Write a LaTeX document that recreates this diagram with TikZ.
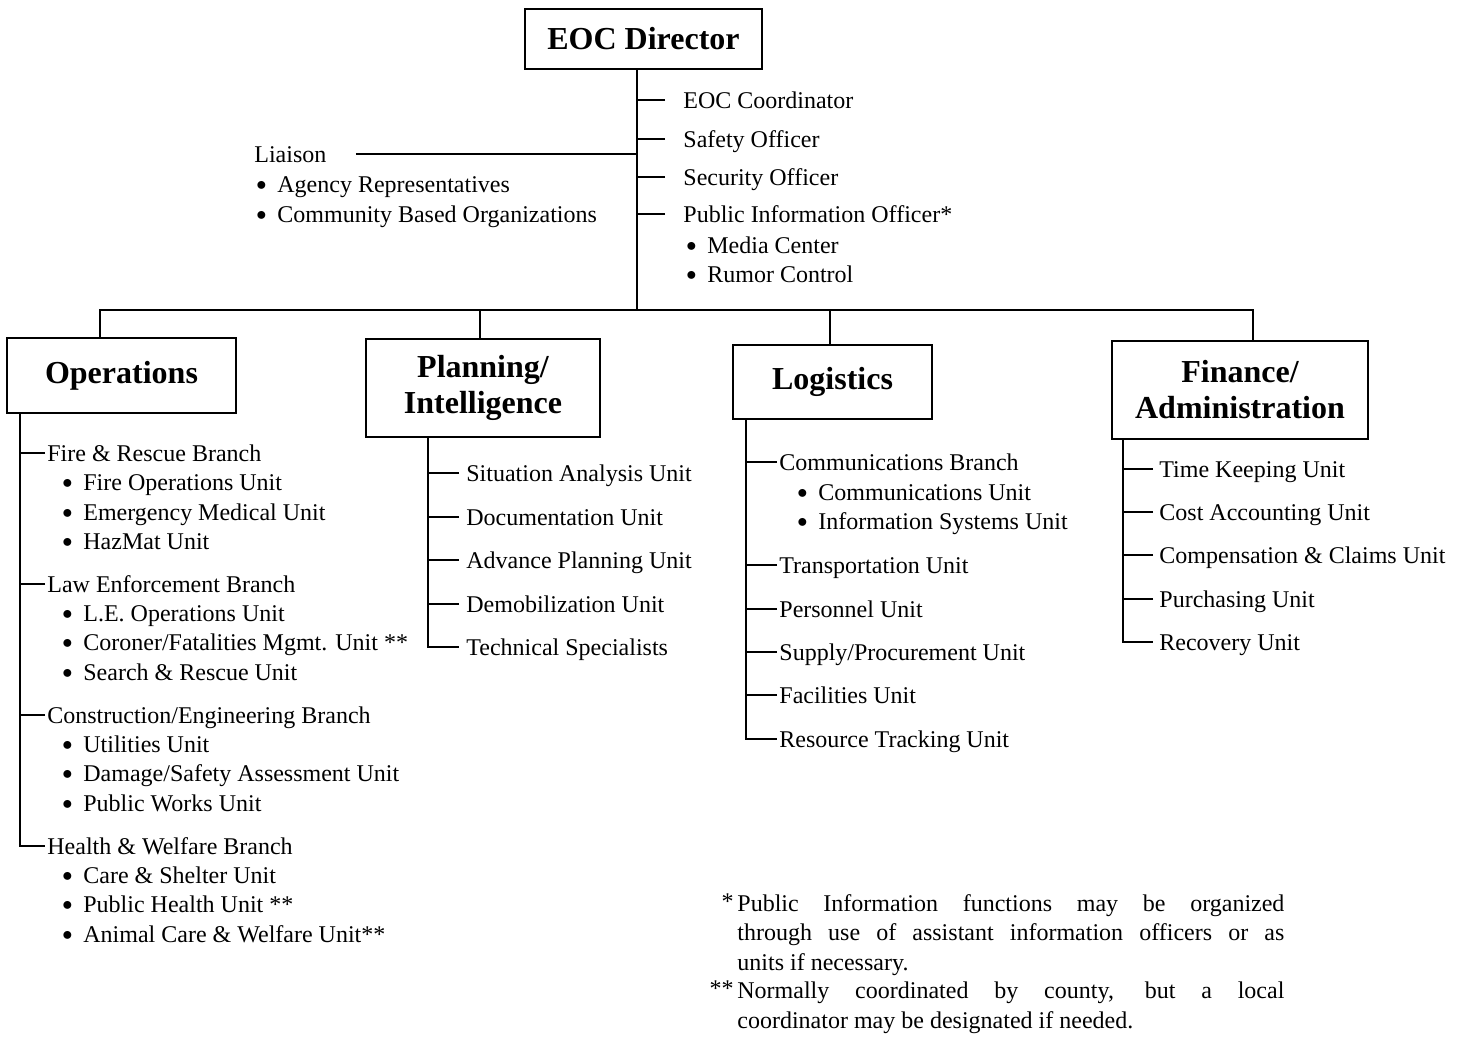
\documentclass[tikz,border=0pt]{standalone}
\usepackage{fontspec}
\usepackage{graphicx}
\setmainfont{Liberation Serif}
\newcommand{\bitem}[1]{\makebox[10.5pt][l]{\raisebox{0.6pt}{\scalebox{0.85}{$\bullet$}}}#1}
\begin{document}
\begin{tikzpicture}[x=0.5pt,y=-0.5pt,
  ln/.style={line width=1pt},
  hbox/.style={draw, line width=1pt, inner sep=0pt, align=center, font=\bfseries\fontsize{16}{18}\selectfont},
  txt/.style={anchor=base west, inner sep=0pt, font=\fontsize{12}{14.5}\selectfont},
  foot/.style={anchor=north west, inner sep=0pt, text width=273.5pt, align=justify, font=\fontsize{12}{14.7}\selectfont},
]
\useasboundingbox (0,0) rectangle (1462,1041);

% ---------- top ----------
\node[hbox, minimum width=118.5pt, minimum height=30pt] (dir) at (643.5,39) {EOC Director};
\coordinate (sp) at (637,310);
\draw[ln] (dir.south -| sp) -- (sp);

\node[txt] (eoc1) at (683,108) {EOC Coordinator};
\node[txt] (eoc2) at (683,147) {Safety Officer};
\node[txt] (eoc3) at (683,185) {Security Officer};
\node[txt] (eoc4) at (683,222) {Public Information Officer*};
\node[txt] (eoc5) at (686,253) {\bitem{Media Center}};
\node[txt] (eoc6) at (686,282) {\bitem{Rumor Control}};
\foreach \n in {eoc1,eoc2,eoc3,eoc4}
  \draw[ln] ([shift={(-18,-8)}]\n.base west) -- ++(-28,0);

\node[txt] (lia) at (254,162) {Liaison};
\node[txt] (lia1) at (256,192) {\bitem{Agency Representatives}};
\node[txt] (lia2) at (256,222) {\bitem{Community Based Organizations}};
\coordinate (liaJ) at (637,154);
\draw[ln] ([shift={(29,-8)}]lia.base east) -- (liaJ);

% ---------- section boxes ----------
\node[hbox, minimum width=114.5pt, minimum height=37.5pt] (ops) at (121.5,375.5) {Operations};
\node[hbox, minimum width=117pt, minimum height=49pt] (plan) at (483,388) {Planning/\\Intelligence};
\node[hbox, minimum width=99.5pt, minimum height=37pt] (log) at (832.5,382) {Logistics};
\node[hbox, minimum width=128pt, minimum height=49pt] (fin) at (1240,390) {Finance/\\Administration};

\coordinate (bO) at (100,310);
\coordinate (bP) at (480,310);
\coordinate (bL) at (830,310);
\coordinate (bF) at (1253,310);
\draw[ln] (bO |- ops.north) -- (bO) -- (bF) -- (bF |- fin.north);
\draw[ln] (bP) -- (bP |- plan.north);
\draw[ln] (bL) -- (bL |- log.north);

% ---------- Operations ----------
\node[txt] (ob1) at (47,461) {Fire \& Rescue Branch};
\node[txt] (ou11) at (62,490) {\bitem{Fire Operations Unit}};
\node[txt] (ou12) at (62,520) {\bitem{Emergency Medical Unit}};
\node[txt] (ou13) at (62,549) {\bitem{HazMat Unit}};
\node[txt] (ob2) at (47,592) {Law Enforcement Branch};
\node[txt] (ou21) at (62,621) {\bitem{L.E. Operations Unit}};
\node[txt] (ou22) at (62,650) {\bitem{Coroner/Fatalities Mgmt. Unit **}};
\node[txt] (ou23) at (62,680) {\bitem{Search \& Rescue Unit}};
\node[txt] (ob3) at (47,723) {Construction/Engineering Branch};
\node[txt] (ou31) at (62,752) {\bitem{Utilities Unit}};
\node[txt] (ou32) at (62,781) {\bitem{Damage/Safety Assessment Unit}};
\node[txt] (ou33) at (62,811) {\bitem{Public Works Unit}};
\node[txt] (ob4) at (47,854) {Health \& Welfare Branch};
\node[txt] (ou41) at (62,883) {\bitem{Care \& Shelter Unit}};
\node[txt] (ou42) at (62,912) {\bitem{Public Health Unit **}};
\node[txt] (ou43) at (62,942) {\bitem{Animal Care \& Welfare Unit**}};
\coordinate (opsS) at (20,846);
\draw[ln] (ops.south -| opsS) -- (opsS) -- ([shift={(-2,-8)}]ob4.base west);
\foreach \n in {ob1,ob2,ob3}
  \draw[ln] ([shift={(-2,-8)}]\n.base west) -- ++(-25,0);

% ---------- Planning ----------
\node[txt] (pu1) at (466,481) {Situation Analysis Unit};
\node[txt] (pu2) at (466,525) {Documentation Unit};
\node[txt] (pu3) at (466,568) {Advance Planning Unit};
\node[txt] (pu4) at (466,612) {Demobilization Unit};
\node[txt] (pu5) at (466,655) {Technical Specialists};
\coordinate (planS) at (428,647);
\draw[ln] (plan.south -| planS) -- (planS) -- ([shift={(-7,-8)}]pu5.base west);
\foreach \n in {pu1,pu2,pu3,pu4}
  \draw[ln] ([shift={(-7,-8)}]\n.base west) -- ++(-31,0);

% ---------- Logistics ----------
\node[txt] (lg1) at (779,470) {Communications Branch};
\node[txt] (lg11) at (797,500) {\bitem{Communications Unit}};
\node[txt] (lg12) at (797,529) {\bitem{Information Systems Unit}};
\node[txt] (lg2) at (779,573) {Transportation Unit};
\node[txt] (lg3) at (779,617) {Personnel Unit};
\node[txt] (lg4) at (779,660) {Supply/Procurement Unit};
\node[txt] (lg5) at (779,703) {Facilities Unit};
\node[txt] (lg6) at (779,747) {Resource Tracking Unit};
\coordinate (logS) at (746,739);
\draw[ln] (log.south -| logS) -- (logS) -- ([shift={(-2,-8)}]lg6.base west);
\foreach \n in {lg1,lg2,lg3,lg4,lg5}
  \draw[ln] ([shift={(-2,-8)}]\n.base west) -- ++(-31,0);

% ---------- Finance ----------
\node[txt] (fu1) at (1159,477) {Time Keeping Unit};
\node[txt] (fu2) at (1159,520) {Cost Accounting Unit};
\node[txt] (fu3) at (1159,563) {Compensation \& Claims Unit};
\node[txt] (fu4) at (1159,607) {Purchasing Unit};
\node[txt] (fu5) at (1159,650) {Recovery Unit};
\coordinate (finS) at (1123,642);
\draw[ln] (fin.south -| finS) -- (finS) -- ([shift={(-6,-8)}]fu5.base west);
\foreach \n in {fu1,fu2,fu3,fu4}
  \draw[ln] ([shift={(-6,-8)}]\n.base west) -- ++(-30,0);

% ---------- footnotes ----------
\node[foot] (fn1) at (737,894) {Public Information functions may be organized\linebreak through use of assistant information officers or as\linebreak units if necessary.};
\node[txt, anchor=base east] (m1) at (734,909) {*};
\node[foot] (fn2) at (737,981.6) {Normally coordinated by county, but a local\linebreak coordinator may be designated if needed.};
\node[txt, anchor=base east] (m2) at (734,996) {**};
\end{tikzpicture}
\end{document}
